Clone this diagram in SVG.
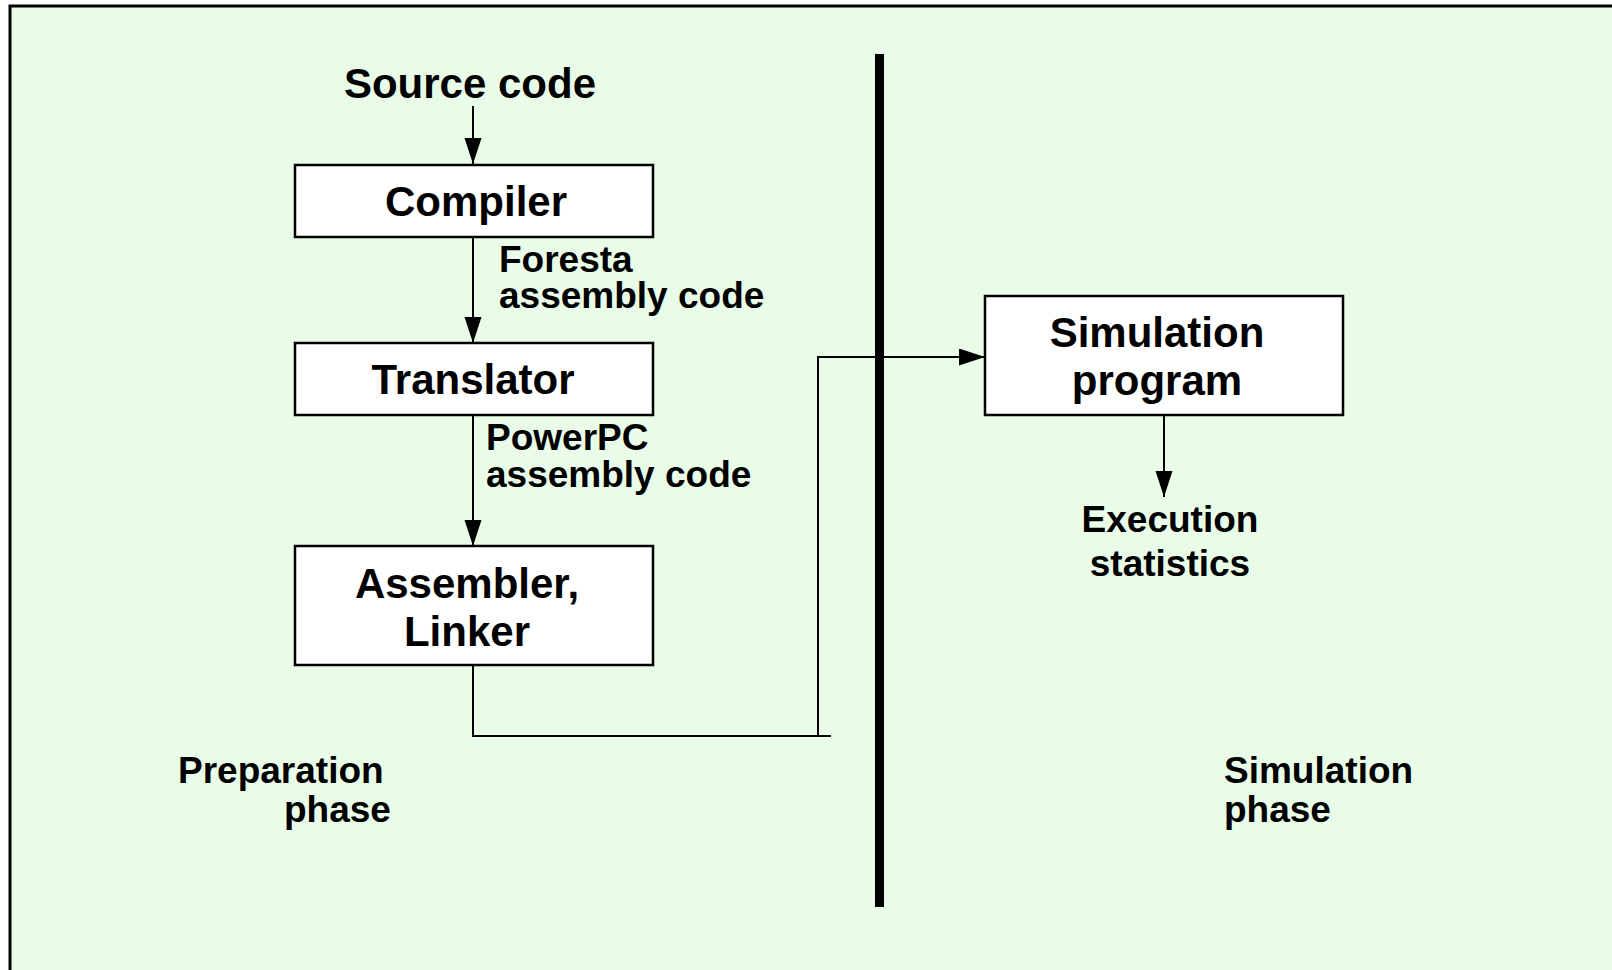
<svg xmlns="http://www.w3.org/2000/svg" width="1612" height="970" viewBox="0 0 1612 970">
<defs>
<marker id="arr" markerUnits="userSpaceOnUse" markerWidth="28" markerHeight="18" refX="26" refY="8.5" orient="auto">
<path d="M0,0 L26,8.5 L0,17 Z" fill="#000"/>
</marker>
<style>
text{font-family:"Liberation Sans",Arial,Helvetica,sans-serif;font-weight:bold;fill:#000}
.big{font-size:42px}
.lbl{font-size:37px}
.box{fill:#fff;stroke:#000;stroke-width:2.5}
.con{fill:none;stroke:#000;stroke-width:2}
</style>
</defs>
<rect x="0" y="0" width="1612" height="970" fill="#fff"/>
<rect id="frame" x="10" y="6" width="1700" height="1100" fill="#e8fce8" stroke="#000" stroke-width="3"/>
<g id="divider"><rect x="875" y="54" width="9" height="853" fill="#000"/></g>
<g id="connectors">
<path class="con" d="M473,106 V164" marker-end="url(#arr)"/>
<path class="con" d="M473,238 V343" marker-end="url(#arr)"/>
<path class="con" d="M473,415 V546" marker-end="url(#arr)"/>
<path class="con" d="M473,665 V736 H831"/>
<path class="con" d="M818,736 V357 H985" marker-end="url(#arr)"/>
<path class="con" d="M1164,415 V497" marker-end="url(#arr)"/>
</g>
<g id="source"><text class="big" x="470" y="98" text-anchor="middle">Source code</text></g>
<g id="compiler"><rect class="box" x="295" y="165" width="358" height="72"/><text class="big" x="476" y="216" text-anchor="middle">Compiler</text></g>
<g id="foresta-label"><text class="lbl" x="499" y="272">Foresta</text><text class="lbl" x="499" y="308">assembly code</text></g>
<g id="translator"><rect class="box" x="295" y="343" width="358" height="72"/><text class="big" x="473" y="394" text-anchor="middle">Translator</text></g>
<g id="powerpc-label"><text class="lbl" x="486" y="450">PowerPC</text><text class="lbl" x="486" y="487">assembly code</text></g>
<g id="assembler"><rect class="box" x="295" y="546" width="358" height="119"/><text class="big" x="467" y="598" text-anchor="middle">Assembler,</text><text class="big" x="467" y="646" text-anchor="middle">Linker</text></g>
<g id="simulation"><rect class="box" x="985" y="296" width="358" height="119"/><text class="big" x="1157" y="347" text-anchor="middle">Simulation</text><text class="big" x="1157" y="395" text-anchor="middle">program</text></g>
<g id="stats"><text class="lbl" x="1170" y="532" text-anchor="middle">Execution</text><text class="lbl" x="1170" y="576" text-anchor="middle">statistics</text></g>
<g id="prep-phase"><text class="lbl" x="178" y="783">Preparation</text><text class="lbl" x="284" y="822">phase</text></g>
<g id="sim-phase"><text class="lbl" x="1224" y="783">Simulation</text><text class="lbl" x="1224" y="822">phase</text></g>
</svg>
